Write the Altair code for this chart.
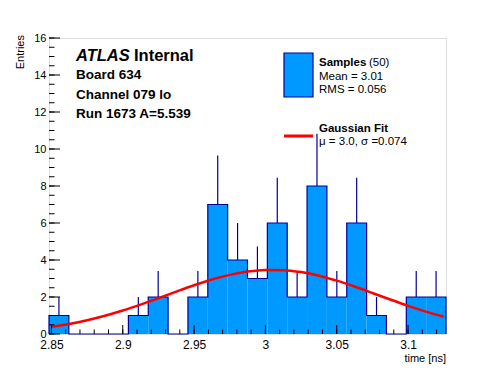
import altair as alt
import pandas as pd

# ---- data ----
x_min = 2.8483
x_max = 3.1266
n_bins = 20
counts = [1, 0, 0, 0, 1, 2, 0, 2, 7, 4, 3, 6, 2, 8, 2, 6, 1, 0, 2, 2]
err_top = [2.0, 0, 0, 0, 2.0, 3.41, 0, 3.41, 9.65, 6.0, 4.73, 8.45, 3.41, 10.83, 3.41, 8.45, 2.0, 0, 3.41, 3.41]

fit_x = [2.85, 2.8625, 2.875, 2.8875, 2.9, 2.9125, 2.925, 2.9375, 2.95, 2.9625, 2.975, 2.9875,
         3.0, 3.0125, 3.025, 3.0375, 3.05, 3.0625, 3.075, 3.0875, 3.1, 3.1125, 3.125]
fit_y = [0.387, 0.543, 0.742, 0.984, 1.268, 1.589, 1.935, 2.289, 2.633, 2.943, 3.196, 3.374,
         3.462, 3.452, 3.346, 3.151, 2.884, 2.566, 2.218, 1.864, 1.522, 1.208, 0.932]

x_major = [2.85, 2.9, 2.95, 3.0, 3.05, 3.1]
x_minor = [2.85, 2.86, 2.87, 2.88, 2.89, 2.9, 2.91, 2.92, 2.93, 2.94, 2.95, 2.96, 2.97, 2.98,
           2.99, 3.0, 3.01, 3.02, 3.03, 3.04, 3.05, 3.06, 3.07, 3.08, 3.09, 3.1, 3.11, 3.12]
y_major = [0, 2, 4, 6, 8, 10, 12, 14, 16]
y_minor = [0.5 * i for i in range(33)]

# ---- layout ----
W, H = 397, 296
FILL = "#0099ff"
EDGE = "#000099"
FONT = "Liberation Sans"

bw = (x_max - x_min) / n_bins
edges = [x_min + k * bw for k in range(n_bins + 1)]
centers = [x_min + (k + 0.5) * bw for k in range(n_bins)]

step_df = pd.DataFrame({
    "x": edges,
    "y": counts + [counts[-1]],
    "i": list(range(n_bins + 1)),
})
err_df = pd.DataFrame({"x": centers, "y": counts, "y2": err_top})
err_df = err_df[err_df["y"] > 0]
fit_df = pd.DataFrame({"x": fit_x, "y": fit_y})

xs = alt.Scale(domain=[x_min, x_max], nice=False, zero=False)
ys = alt.Scale(domain=[0, 16], nice=False)

x_axis = alt.Axis(values=x_major, labelExpr="datum.value == 3 ? '3' : format(datum.value, '.2~f')",
                  ticks=False, domain=False, grid=False, title=None, labelFont=FONT,
                  labelFontSize=12, labelPadding=5, labelColor="black", labelOverlap=False)
y_axis = alt.Axis(values=y_major, ticks=False, domain=False, grid=False, title=None,
                  labelFont=FONT, labelFontSize=11, labelPadding=3, labelColor="black",
                  labelOverlap=False)


def X(field="x"):
    return alt.X(f"{field}:Q", scale=xs, axis=x_axis)


def Y(field="y"):
    return alt.Y(f"{field}:Q", scale=ys, axis=y_axis)


area = alt.Chart(step_df).mark_area(interpolate="step-after", color=FILL).encode(
    x=X(), y=Y(), order="i:Q")

# step outline points
pts_x, pts_y = [edges[0]], [0]
for k in range(n_bins):
    pts_x += [edges[k], edges[k + 1]]
    pts_y += [counts[k], counts[k]]
pts_x.append(edges[-1]); pts_y.append(0)
outline = alt.Chart(pd.DataFrame({"x": pts_x, "y": pts_y, "i": range(len(pts_x))})).mark_line(
    color=EDGE, strokeWidth=1.2).encode(x=X(), y=Y(), order="i:Q")

errs = alt.Chart(err_df).mark_rule(color=EDGE, strokeWidth=1.2).encode(
    x=X(), y=Y(), y2="y2:Q")

fit = alt.Chart(fit_df).mark_line(color="#ff0000", strokeWidth=2.5, interpolate="monotone").encode(
    x=X(), y=Y())

# inward ticks
xmaj = alt.Chart(pd.DataFrame({"x": x_major})).mark_rule(color="black", strokeWidth=1).encode(
    x=X(), y=alt.value(H), y2=alt.value(H - 9))
xmin_t = alt.Chart(pd.DataFrame({"x": x_minor})).mark_rule(color="black", strokeWidth=1).encode(
    x=X(), y=alt.value(H), y2=alt.value(H - 4.5))
ymaj = alt.Chart(pd.DataFrame({"y": y_major})).mark_rule(color="black", strokeWidth=1).encode(
    y=Y(), x=alt.value(0), x2=alt.value(11))
ymin_t = alt.Chart(pd.DataFrame({"y": y_minor})).mark_rule(color="black", strokeWidth=1).encode(
    y=Y(), x=alt.value(0), x2=alt.value(5.5))

one = alt.Data(values=[{"a": 1}])


def txt(s, x, y, size, weight="normal", style="normal", align="left", angle=0, color="black"):
    kw = dict(text=s, font=FONT, fontSize=size, fontWeight=weight, fontStyle=style,
              align=align, baseline="alphabetic", color=color)
    if angle:
        kw["angle"] = angle
    return alt.Chart(one).mark_text(**kw).encode(x=alt.value(x), y=alt.value(y))


legend_box = alt.Chart(one).mark_rect(fill=FILL, stroke=EDGE, strokeWidth=1.2).encode(
    x=alt.value(235), x2=alt.value(264), y=alt.value(15), y2=alt.value(59))
legend_line = alt.Chart(one).mark_rule(color="#ff0000", strokeWidth=3).encode(
    x=alt.value(235), x2=alt.value(264), y=alt.value(98))

texts = [
    txt("ATLAS", 27, 23, 16.5, "bold", "italic"),
    txt("Internal", 85, 23, 16.5, "bold"),
    txt("Board 634", 27, 41, 13.5, "bold"),
    txt("Channel 079 lo", 27, 60.5, 13.5, "bold"),
    txt("Run 1673 A=5.539", 27, 79.5, 13.5, "bold"),
    txt("Samples", 270, 28, 11.5, "bold"),
    txt("(50)", 320, 28, 11.5),
    txt("Mean = 3.01", 270, 42, 11.5),
    txt("RMS = 0.056", 270, 55, 11.5),
    txt("Gaussian Fit", 270, 94, 11.5, "bold"),
    txt("\u03bc = 3.0, \u03c3 =0.074", 270, 107, 11.5),
    txt("time [ns]", 397, 324, 11, align="right"),
    txt("Entries", -25, -3, 11, align="right", angle=270),
]

chart = alt.layer(area, outline, errs, fit, xmaj, xmin_t, ymaj, ymin_t,
                  legend_box, legend_line, *texts).properties(
    width=W, height=H,
    autosize=alt.AutoSizeParams(type="none"),
    padding={"left": 41, "top": 30, "right": 42, "bottom": 30},
).configure_view(stroke="black", strokeWidth=1.2).configure_axis(
    labelOverlap=False).configure(background="white")

chart.save("out.html", embed_options={"renderer": "svg", "actions": False})
